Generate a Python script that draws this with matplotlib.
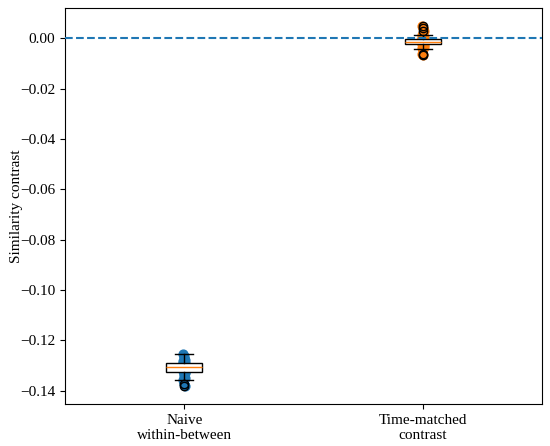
import matplotlib
matplotlib.use("Agg")
import matplotlib.pyplot as plt
import matplotlib.ticker as mticker
import numpy as np

plt.rcParams["font.family"] = ["Liberation Serif", "DejaVu Serif"]
plt.rcParams["font.size"] = 11

LABELS = ["Naive\nwithin-between", "Time-matched\ncontrast"]

naive = [-0.1254, -0.1262, -0.1270, -0.1276, -0.1281, -0.1285, -0.1288, -0.1290,
         -0.1292, -0.1295, -0.1298, -0.1300, -0.1303, -0.1305, -0.1306, -0.1307,
         -0.1309, -0.1311, -0.1314, -0.1316, -0.1318, -0.1320, -0.1322, -0.1325,
         -0.1329, -0.1334, -0.1340, -0.1347, -0.1357, -0.1373, -0.1381]
matched = [0.0048, 0.0040, 0.0027, 0.0014, 0.0006, 0.0002, -0.0002, -0.0004,
           -0.0006, -0.0008, -0.0010, -0.0011, -0.0012, -0.0013, -0.0014, -0.0015,
           -0.0016, -0.0017, -0.0018, -0.0019, -0.0021, -0.0023, -0.0024, -0.0026,
           -0.0029, -0.0034, -0.0040, -0.0045, -0.0062, -0.0066]

fig = plt.figure(figsize=(5.5, 4.46), dpi=100)
ax = fig.add_axes([0.118, 0.094, 0.868, 0.888])

# points behind the boxes, tiny horizontal spread
for i, vals in enumerate([naive, matched]):
    n = len(vals)
    jit = np.linspace(-0.005, 0.005, n)[np.argsort(np.arange(n) * 7 % n)]
    ax.scatter(i + 1 + jit, vals, s=40, color=f"C{i}", zorder=1)

ax.boxplot([naive, matched], positions=[1, 2], widths=0.15, patch_artist=True,
           boxprops=dict(facecolor="white", edgecolor="black"),
           medianprops=dict(color="C1"), zorder=2)
ax.axhline(0, color="C0", ls="--", lw=1.5, zorder=3)

ax.set_xticks([1, 2])
ax.set_xticklabels(LABELS)
ax.set_xlim(0.5, 2.5)
ax.set_ylabel("Similarity contrast", labelpad=-2)
ax.set_yticks(np.arange(-0.14, 0.001, 0.02))
ax.yaxis.set_major_formatter(mticker.FuncFormatter(
    lambda v, p: f"{v:.2f}".replace("-", "\u2212") if abs(v) > 1e-9 else "0.00"))

fig.savefig("out.png")
